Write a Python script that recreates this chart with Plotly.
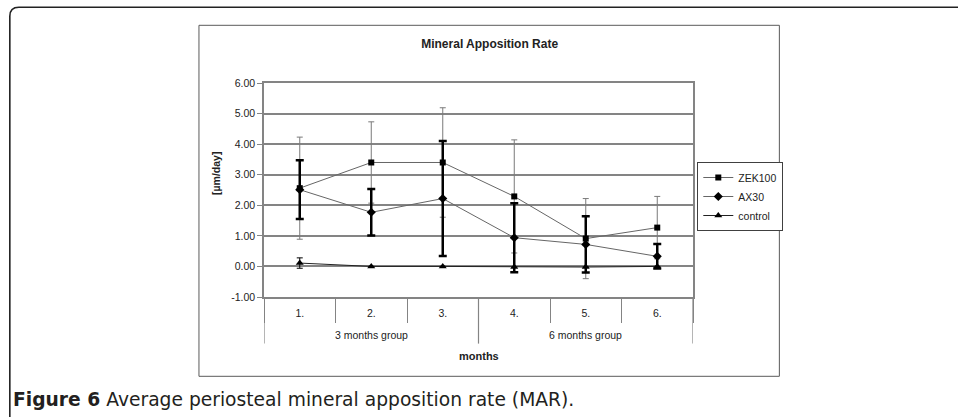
import plotly.graph_objects as go

# ---------------- data ----------------
groups = ["3 months group"] * 3 + ["6 months group"] * 3
months = ["1.", "2.", "3.", "4.", "5.", "6."]

zek100 = [2.56, 3.40, 3.40, 2.29, 0.91, 1.27]
zek100_err = [1.67, 1.33, 1.79, 1.85, 1.31, 1.02]

ax30 = [2.51, 1.77, 2.22, 0.94, 0.72, 0.33]
ax30_err = [0.96, 0.76, 1.88, 1.13, 0.92, 0.40]

control = [0.11, 0.00, 0.00, -0.02, -0.02, 0.00]
control_err = [0.17, 0, 0, 0, 0, 0]

y_ticks = [-1, 0, 1, 2, 3, 4, 5, 6]

# ---------------- layout helpers (pixel -> paper) ----------------
W, H = 958, 417
PL, PR, PT, PB = 264, 692.7, 82.7, 296.7


def px(x):
    return (x - PL) / (PR - PL)


def py(y):
    return (PB - y) / (PB - PT)


FONT = "Liberation Sans, Arial, sans-serif"
TXT = "#222222"
GRID = "#848484"

fig = go.Figure()
fig.add_trace(go.Scatter(
    x=months, y=zek100, name="ZEK100", mode="lines+markers",
    line=dict(color="#666666", width=1),
    marker=dict(symbol="square", size=6, color="black"),
    error_y=dict(type="data", array=zek100_err, visible=True,
                 color="#7a7a7a", thickness=1, width=3),
))
fig.add_trace(go.Scatter(
    x=months, y=ax30, name="AX30", mode="lines+markers",
    line=dict(color="#666666", width=1),
    marker=dict(symbol="diamond", size=7, color="black"),
    error_y=dict(type="data", array=ax30_err, visible=True,
                 color="black", thickness=2.5, width=4),
))
fig.add_trace(go.Scatter(
    x=months, y=control, name="control", mode="lines+markers",
    line=dict(color="#222222", width=1),
    marker=dict(symbol="triangle-up", size=7, color="black"),
    error_y=dict(type="data", array=control_err, visible=True,
                 color="black", thickness=1, width=3),
))

shapes = [
    # outer rounded frame (page border)
    dict(type="path", xref="paper", yref="paper",
         path=f"M {px(10)},{py(440)} L {px(10)},{py(16)} Q {px(10)},{py(7)} {px(19)},{py(7)} L {px(990)},{py(7)}",
         line=dict(color="#222222", width=1.6)),
    # chart frame
    dict(type="rect", xref="paper", yref="paper",
         x0=px(199), x1=px(779), y0=py(25), y1=py(376),
         line=dict(color="#5a5a5a", width=1)),
]

# group dividers and group labels (category-index positions)
n = len(months)
bounds = [-0.5] + [i - 0.5 for i in range(1, n) if groups[i] != groups[i - 1]] + [n - 0.5]
for b in bounds:
    shapes.append(dict(type="line", xref="x", yref="paper", x0=b, x1=b,
                       y0=0, y1=py(343.3), line=dict(color=GRID, width=1.2)))

annotations = []
seen = []
for g in groups:
    if g not in seen:
        seen.append(g)
for g in seen:
    idx = [i for i, gg in enumerate(groups) if gg == g]
    annotations.append(dict(text=g, xref="x", yref="paper", x=sum(idx) / len(idx),
                            y=py(335), showarrow=False, xanchor="center", yanchor="middle",
                            font=dict(family=FONT, size=10.5, color=TXT)))

annotations += [
    dict(text="[µm/day]", xref="paper", yref="paper", x=px(216.7), y=py(173),
         textangle=-90, showarrow=False, xanchor="center", yanchor="middle",
         font=dict(family=FONT, size=10.5, color=TXT, weight="bold")),
    dict(text="<b>months</b>", xref="paper", yref="paper", x=px(479), y=py(355.7),
         showarrow=False, xanchor="center", yanchor="middle",
         font=dict(family=FONT, size=11, color=TXT)),
    dict(text="<b>Figure 6</b> Average periosteal mineral apposition rate (MAR).",
         xref="paper", yref="paper", x=px(11), y=py(398.7),
         showarrow=False, xanchor="left", yanchor="middle",
         font=dict(family="DejaVu Sans, sans-serif", size=18.7, color="#231f20")),
]

fig.update_layout(
    width=W, height=H,
    margin=dict(l=PL, r=W - PR, t=PT, b=H - PB, pad=0),
    paper_bgcolor="white", plot_bgcolor="white",
    showlegend=True,
    title=dict(text="<b>Mineral Apposition Rate</b>", x=px(489.5), xref="paper",
               xanchor="center", y=1 - 44 / H, yref="container", yanchor="middle",
               font=dict(family=FONT, size=12, color=TXT)),
    legend=dict(x=px(697), xanchor="left", y=py(161.7), yanchor="top",
                bgcolor="white", bordercolor="#404040", borderwidth=1,
                font=dict(family=FONT, size=10.5, color=TXT),
                itemwidth=30, tracegroupgap=0),
    shapes=shapes,
    annotations=annotations,
    font=dict(family=FONT, size=10.5, color=TXT),
)

fig.update_xaxes(
    type="category", range=[-0.5, n - 0.5],
    showline=True, linecolor=GRID, linewidth=1.5, mirror=True,
    showgrid=False, zeroline=False,
    ticks="outside", tickson="boundaries", ticklen=24, tickcolor=GRID, tickwidth=1.2,
    ticklabelstandoff=6,
    tickfont=dict(family=FONT, size=10.5, color=TXT),
)
fig.update_yaxes(
    range=[-1, 6], tickvals=y_ticks, ticktext=[f"{v:.2f}" for v in y_ticks],
    showline=True, linecolor=GRID, linewidth=1.5, mirror=True,
    showgrid=True, gridcolor=GRID, gridwidth=1.5, zeroline=False,
    ticks="outside", ticklen=5, tickcolor=GRID,
    tickfont=dict(family=FONT, size=10.5, color=TXT),
)

fig.write_html("out.html", config={"displayModeBar": False},
               post_script="document.body.style.margin='0';")
